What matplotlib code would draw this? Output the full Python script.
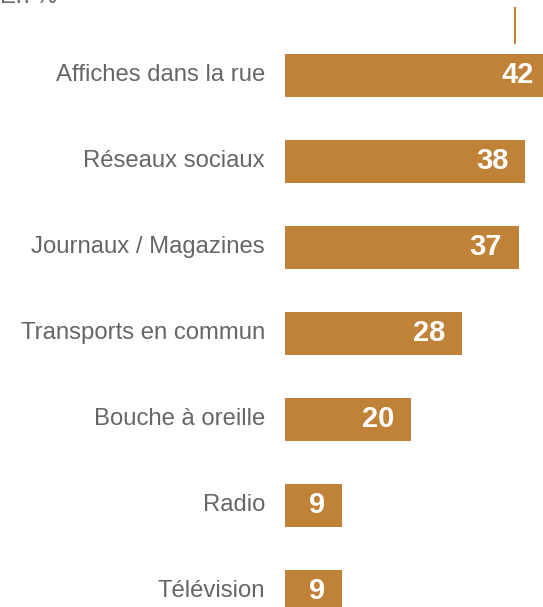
import matplotlib
matplotlib.use('Agg')
import matplotlib.pyplot as plt

categories = ["Affiches dans la rue", "Réseaux sociaux", "Journaux / Magazines",
              "Transports en commun", "Bouche à oreille", "Radio", "Télévision"]
values = [42, 38, 37, 28, 20, 9, 9]
ref_value = 36.4  # short marker line above the first bar

bar_color = '#BF8236'
text_color = '#666666'

plt.rcParams['font.family'] = ['Liberation Sans', 'DejaVu Sans']

fig = plt.figure(figsize=(5.43, 6.07), dpi=100)
ax = fig.add_axes([0, 0, 1, 1])

px = 6.32  # pixels per unit
ax.set_xlim(-285 / px, (543 - 285) / px)
ax.set_ylim((607 - 75) / 86, -75 / 86)
ax.axis('off')

ypos = list(range(len(categories)))
ax.barh(ypos, values, height=0.5, color=bar_color, edgecolor='none')

for y, v, name in zip(ypos, values, categories):
    ax.text(-20 / px, y, name, ha='right', va='center', fontsize=17.2, color=text_color)
    ax.text(v - 17 / px, y, str(v), ha='right', va='center', fontsize=21,
            fontweight='bold', color='white')

ax.plot([ref_value, ref_value], [-67 / 86, -32 / 86], color=bar_color, lw=1.5)

fig.text(0.0, 1 - 3 / 607, "En %", ha='left', va='baseline', fontsize=17.2, color=text_color)

fig.savefig('out.png', dpi=100)
